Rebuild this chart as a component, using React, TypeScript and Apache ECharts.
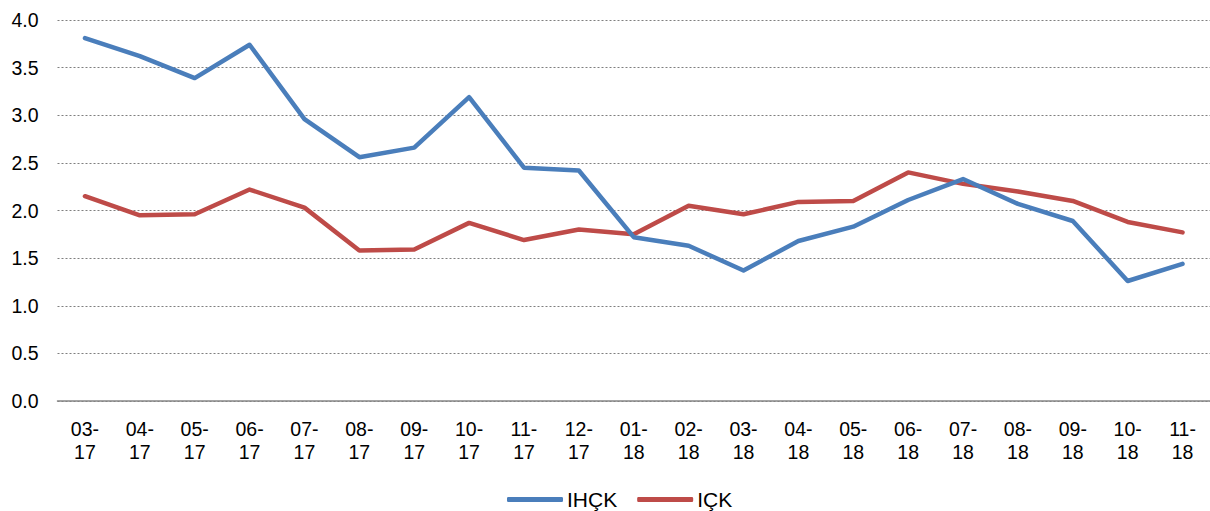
import React, { useEffect, useRef } from "react";
import * as echarts from "echarts";

const categories = [
  "03-\n17", "04-\n17", "05-\n17", "06-\n17", "07-\n17", "08-\n17", "09-\n17",
  "10-\n17", "11-\n17", "12-\n17", "01-\n18", "02-\n18", "03-\n18", "04-\n18",
  "05-\n18", "06-\n18", "07-\n18", "08-\n18", "09-\n18", "10-\n18", "11-\n18",
];

const ihck = [
  3.81, 3.62, 3.39, 3.74, 2.96, 2.56, 2.66, 3.19, 2.45, 2.42, 1.72,
  1.63, 1.37, 1.68, 1.83, 2.11, 2.33, 2.07, 1.89, 1.26, 1.44,
];

const ick = [
  2.15, 1.95, 1.96, 2.22, 2.03, 1.58, 1.59, 1.87, 1.69, 1.80, 1.75,
  2.05, 1.96, 2.09, 2.10, 2.40, 2.28, 2.20, 2.10, 1.88, 1.77,
];

const seriesNames = ["IHÇK", "IÇK"];
const FONT = "'Liberation Sans', Arial, sans-serif";

export default function App() {
  const ref = useRef<HTMLDivElement>(null);

  useEffect(() => {
    if (!ref.current) return;
    const chart = echarts.init(ref.current, null, { renderer: "svg" });
    chart.setOption({
      animation: false,
      textStyle: { fontFamily: FONT },
      grid: { left: 57.5, right: 0, top: 20, bottom: 110, containLabel: false },
      legend: {
        bottom: 1,
        left: 507,
        padding: 0,
        icon: "roundRect",
        itemWidth: 56,
        itemHeight: 5,
        itemGap: 20,
        textStyle: { fontFamily: FONT, fontSize: 21, color: "#000", padding: [0, 0, 0, -1] },
        data: seriesNames,
      },
      xAxis: {
        type: "category",
        data: categories,
        boundaryGap: true,
        axisLine: { show: true, lineStyle: { color: "#868686", width: 1.5 } },
        axisTick: { show: false },
        axisLabel: {
          interval: 0,
          color: "#000",
          fontSize: 19.5,
          lineHeight: 23,
          margin: 16,
          fontFamily: FONT,
        },
        splitLine: { show: false },
      },
      yAxis: {
        type: "value",
        min: 0,
        max: 4,
        interval: 0.5,
        axisLine: { show: false },
        axisTick: { show: false },
        axisLabel: {
          color: "#000",
          fontSize: 19.5,
          margin: 19,
          fontFamily: FONT,
          formatter: (v: number) => v.toFixed(1),
        },
        splitLine: {
          show: true,
          lineStyle: { color: "#7f7f7f", type: [2, 2], width: 1 },
        },
      },
      series: [
        {
          name: seriesNames[0],
          type: "line",
          data: ihck,
          symbol: "none",
          itemStyle: { color: "#4A7EBB" },
          lineStyle: { color: "#4A7EBB", width: 4.5, cap: "round", join: "round" },
          z: 3,
        },
        {
          name: seriesNames[1],
          type: "line",
          data: ick,
          symbol: "none",
          itemStyle: { color: "#BE4B48" },
          lineStyle: { color: "#BE4B48", width: 4.5, cap: "round", join: "round" },
          z: 2,
        },
      ],
    });
    return () => chart.dispose();
  }, []);

  return (
    <div
      ref={ref}
      style={{ position: "absolute", left: 0, top: 0, width: 1210, height: 511, background: "#fff" }}
    />
  );
}
